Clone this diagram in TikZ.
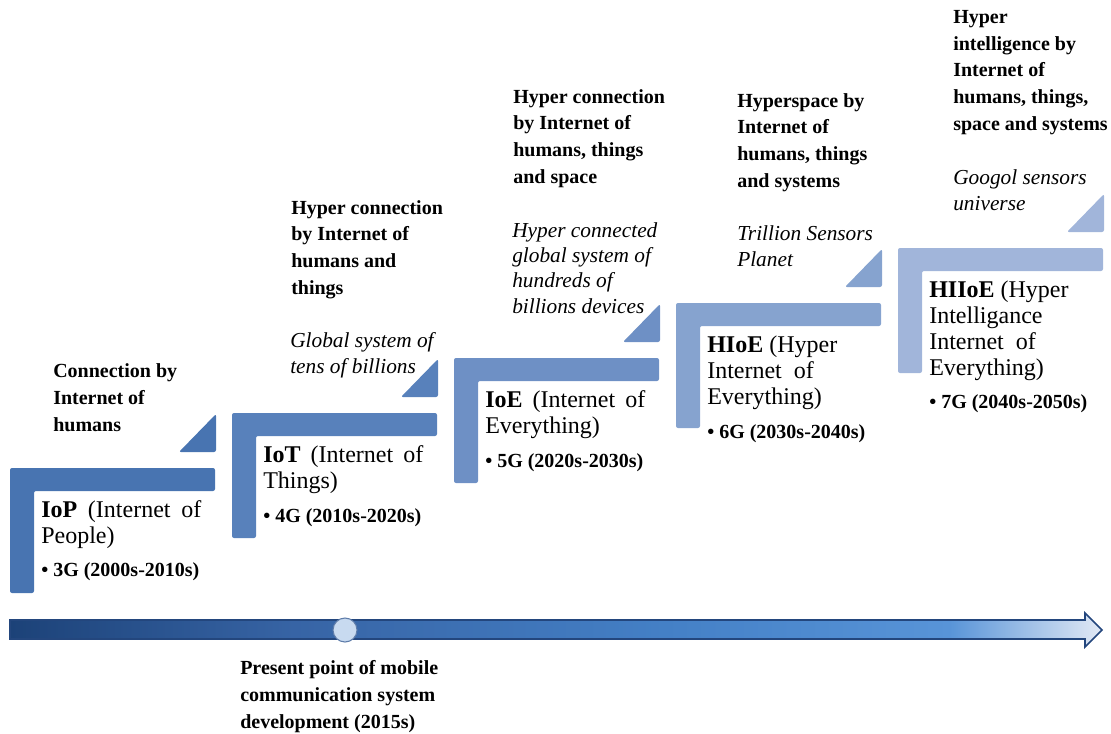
\documentclass[tikz,border=0pt]{standalone}
\usepackage{fontspec}
\setmainfont{Liberation Serif}

\definecolor{stepA}{RGB}{72,116,177}
\definecolor{stepB}{RGB}{88,129,187}
\definecolor{stepC}{RGB}{110,144,197}
\definecolor{stepD}{RGB}{134,163,207}
\definecolor{stepE}{RGB}{161,181,218}
\definecolor{lineDark}{RGB}{28,66,120}
\definecolor{lineMid}{RGB}{55,100,165}
\definecolor{lineBlue}{RGB}{68,128,198}
\definecolor{lineLight}{RGB}{88,148,216}
\definecolor{lineTip}{RGB}{226,233,245}
\definecolor{lineEdge}{RGB}{35,70,125}
\definecolor{nowFill}{RGB}{200,218,240}
\definecolor{nowEdge}{RGB}{95,125,170}

\pgfdeclarehorizontalshading{timeline}{100bp}{color(0bp)=(lineDark); color(25bp)=(lineDark); color(38bp)=(lineMid); color(55bp)=(lineBlue); color(68bp)=(lineLight); color(75bp)=(lineTip); color(100bp)=(lineTip)}

\tikzset{
  stepshape/.style={rounded corners=1.5pt, draw=none},
  steplabel/.style={font=\bfseries\fontsize{15pt}{20pt}\selectfont, align=left, anchor=base west, inner sep=0pt},
  stepnote/.style={font=\itshape\fontsize{16pt}{19pt}\selectfont, align=left, anchor=base west, inner sep=0pt},
  stagetitle/.style={font=\fontsize{18pt}{19.5pt}\selectfont, align=left, anchor=base west, inner sep=0pt},
  stagegen/.style={font=\bfseries\fontsize{15pt}{18pt}\selectfont, anchor=base west, inner sep=0pt}
}

\begin{document}
\begin{tikzpicture}[x=0.75pt,y=0.75pt,yscale=-1,xscale=1]
\useasboundingbox (0,0) rectangle (1111,733);

%Shape: Step IoP
\fill [stepshape, stepA] (10,468) -- (215,468) -- (215,491) -- (34,491) -- (34,593) -- (10,593) -- cycle ;
\fill [stepshape, stepA] (179,452) -- (216,414) -- (216,452) -- cycle ;
%Shape: Step IoT
\fill [stepshape, stepB] (232,413) -- (437,413) -- (437,436) -- (256,436) -- (256,538) -- (232,538) -- cycle ;
\fill [stepshape, stepB] (401,397) -- (438,359) -- (438,397) -- cycle ;
%Shape: Step IoE
\fill [stepshape, stepC] (454,358) -- (659,358) -- (659,381) -- (478,381) -- (478,483) -- (454,483) -- cycle ;
\fill [stepshape, stepC] (623,342) -- (660,304) -- (660,342) -- cycle ;
%Shape: Step HIoE
\fill [stepshape, stepD] (676,303) -- (881,303) -- (881,326) -- (700,326) -- (700,428) -- (676,428) -- cycle ;
\fill [stepshape, stepD] (845,287) -- (882,249) -- (882,287) -- cycle ;
%Shape: Step HIIoE
\fill [stepshape, stepE] (898,248) -- (1103,248) -- (1103,271) -- (922,271) -- (922,373) -- (898,373) -- cycle ;
\fill [stepshape, stepE] (1067,232) -- (1104,194) -- (1104,232) -- cycle ;

%Shape: Time line arrow
\shade [shading=timeline, draw=lineEdge, line width=1.2pt, line join=miter] (10,620) -- (1085,620) -- (1085,613) -- (1102,630) -- (1085,647) -- (1085,639) -- (10,639) -- cycle ;
%Shape: Present point
\draw [fill=nowFill, draw=nowEdge, line width=0.8pt] (345,630) circle [radius=12] ;

%Text: IoP (anchors sit on the last line)
\node [steplabel] (lblIoP) at (53,431) {Connection by\\Internet of\\humans};
\node [stagetitle] (IoP) at (41,543) {\makebox[120pt][s]{\textbf{IoP} (Internet of}\\People)};
\node [stagegen] (genIoP) at (41,576) {\textbullet\ 3G (2000s-2010s)};

%Text: IoT
\node [steplabel] (lblIoT) at (291,294) {Hyper connection\\by Internet of\\humans and\\things};
\node [stepnote] (noteIoT) at (290,373) {Global system of\\tens of billions};
\node [stagetitle] (IoT) at (263,488) {\makebox[120pt][s]{\textbf{IoT} (Internet of}\\Things)};
\node [stagegen] (genIoT) at (263,522) {\textbullet\ 4G (2010s-2020s)};

%Text: IoE
\node [steplabel] (lblIoE) at (513,183) {Hyper connection\\by Internet of\\humans, things\\and space};
\node [stepnote] (noteIoE) at (512,313) {Hyper connected\\global system of\\hundreds of\\billions devices};
\node [stagetitle] (IoE) at (485,433) {\makebox[120pt][s]{\textbf{IoE} (Internet of}\\Everything)};
\node [stagegen] (genIoE) at (485,467) {\textbullet\ 5G (2020s-2030s)};

%Text: HIoE
\node [steplabel] (lblHIoE) at (737,187) {Hyperspace by\\Internet of\\humans, things\\and systems};
\node [stepnote] (noteHIoE) at (737,266) {Trillion Sensors\\Planet};
\node [stagetitle] (HIoE) at (707,404) {\textbf{HIoE} (Hyper\\\makebox[80pt][s]{Internet of}\\Everything)};
\node [stagegen] (genHIoE) at (707,438) {\textbullet\ 6G (2030s-2040s)};

%Text: HIIoE
\node [steplabel] (lblHIIoE) at (953,130) {Hyper\\intelligence by\\Internet of\\humans, things,\\space and systems};
\node [stepnote] (noteHIIoE) at (953,210) {Googol sensors\\universe};
\node [stagetitle] (HIIoE) at (929,375) {\textbf{HIIoE} (Hyper\\Intelligance\\\makebox[80pt][s]{Internet of}\\Everything)};
\node [stagegen] (genHIIoE) at (929,408) {\textbullet\ 7G (2040s-2050s)};

%Text: present point
\node [steplabel] (lblNow) at (240,728) {Present point of mobile\\communication system\\development (2015s)};

\end{tikzpicture}
\end{document}
